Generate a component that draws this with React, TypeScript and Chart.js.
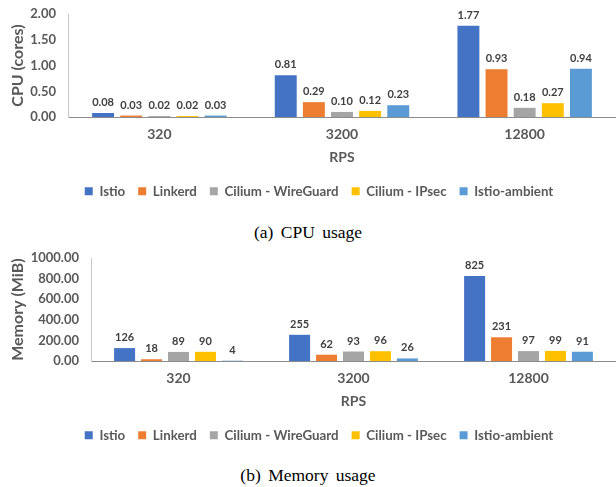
import React, { useEffect, useRef } from "react";
import { Chart, registerables } from "chart.js";

Chart.register(...registerables);

const categories = ["320", "3200", "12800"];
const seriesNames = ["Istio", "Linkerd", "Cilium - WireGuard", "Cilium - IPsec", "Istio-ambient"];
const seriesColors = ["#4472C4", "#ED7D31", "#A5A5A5", "#FFC000", "#5B9BD5"];

const cpuIstio = [0.08, 0.81, 1.77];
const cpuLinkerd = [0.03, 0.29, 0.93];
const cpuWireGuard = [0.02, 0.1, 0.18];
const cpuIPsec = [0.02, 0.12, 0.27];
const cpuAmbient = [0.03, 0.23, 0.94];

const memIstio = [126, 255, 825];
const memLinkerd = [18, 62, 231];
const memWireGuard = [89, 93, 97];
const memIPsec = [90, 96, 99];
const memAmbient = [4, 26, 91];

const FONT = "Lato, 'Open Sans', sans-serif";
const TEXT = "#595959";
const CANVAS_H = 208;
const PAD_LEFT = 22;

const valueLabels = {
  id: "valueLabels",
  afterDatasetsDraw(chart: any, _args: any, opts: any) {
    const ctx = chart.ctx;
    ctx.save();
    ctx.font = `bold 11px ${FONT}`;
    ctx.fillStyle = "#404040";
    ctx.textAlign = "center";
    ctx.textBaseline = "bottom";
    chart.data.datasets.forEach((ds: any, i: number) => {
      const meta = chart.getDatasetMeta(i);
      meta.data.forEach((el: any, j: number) => {
        const v = ds.data[j];
        const txt = opts.decimals > 0 ? v.toFixed(opts.decimals) : String(Math.round(v));
        ctx.fillText(txt, el.x, el.y - 5);
      });
    });
    ctx.restore();
  },
};

function makeConfig(series: number[][], yTitle: string, max: number, step: number, decimals: number, axisX: number): any {
  return {
    type: "bar",
    data: {
      labels: categories,
      datasets: series.map((d, i) => ({
        label: seriesNames[i],
        data: d,
        backgroundColor: seriesColors[i],
        categoryPercentage: 0.77,
        barPercentage: 0.78,
      })),
    },
    plugins: [valueLabels],
    options: {
      animation: false,
      responsive: false,
      maintainAspectRatio: false,
      layout: { padding: { top: 14, left: PAD_LEFT, right: 0, bottom: 0 } },
      plugins: {
        valueLabels: { decimals },
        tooltip: { enabled: false },
        legend: {
          position: "bottom",
          labels: {
            boxWidth: 8,
            boxHeight: 8,
            padding: 13,
            color: TEXT,
            font: { family: FONT, size: 13.3, weight: "bold" },
          },
        },
      },
      scales: {
        x: {
          grid: { display: false, drawTicks: false },
          border: { display: true, color: "#8c8c8c", width: 1 },
          ticks: { color: TEXT, padding: 9, font: { family: FONT, size: 14, weight: "bold" } },
          title: {
            display: true,
            text: "RPS",
            color: TEXT,
            padding: { top: -3, bottom: 6 },
            font: { family: FONT, size: 14, weight: "bold" },
          },
        },
        y: {
          min: 0,
          max,
          afterFit: (s: any) => {
            s.width = axisX - PAD_LEFT;
            s.paddingTop = 0;
            s.paddingBottom = 0;
          },
          grid: { display: false, drawTicks: false },
          border: { display: true, color: "#c8c8c8", width: 1 },
          ticks: {
            stepSize: step,
            color: TEXT,
            padding: 12,
            font: { family: FONT, size: 13, weight: "bold" },
            callback: (v: any) => Number(v).toFixed(2),
          },
          title: {
            display: true,
            text: yTitle,
            color: TEXT,
            padding: { top: -14, bottom: 4 },
            font: { family: FONT, size: 16, weight: "bold" },
          },
        },
      },
    },
  };
}

function BarChart(props: { series: number[][]; yTitle: string; max: number; step: number; decimals: number; axisX: number; top: number }) {
  const ref = useRef<HTMLCanvasElement>(null);
  useEffect(() => {
    if (!ref.current) return;
    const chart = new Chart(ref.current, makeConfig(props.series, props.yTitle, props.max, props.step, props.decimals, props.axisX));
    return () => chart.destroy();
  }, []);
  return (
    <canvas
      ref={ref}
      width={616}
      height={CANVAS_H}
      style={{ position: "absolute", left: 0, top: props.top, width: 616, height: CANVAS_H }}
    />
  );
}

const captionStyle: React.CSSProperties = {
  position: "absolute",
  left: 0,
  width: 616,
  textAlign: "center",
  fontFamily: "'Liberation Serif', 'Times New Roman', serif",
  fontSize: 17.5,
  wordSpacing: 3,
  color: "#000",
  lineHeight: "20px",
};

export default function App() {
  return (
    <div style={{ position: "fixed", left: 0, top: 0, width: 616, height: 487, background: "#fff", overflow: "hidden" }}>
      <BarChart
        series={[cpuIstio, cpuLinkerd, cpuWireGuard, cpuIPsec, cpuAmbient]}
        yTitle="CPU (cores)"
        max={2}
        step={0.5}
        decimals={2}
        axisX={68}
        top={0}
      />
      <div style={{ ...captionStyle, top: 222 }}>(a) CPU usage</div>
      <BarChart
        series={[memIstio, memLinkerd, memWireGuard, memIPsec, memAmbient]}
        yTitle="Memory (MiB)"
        max={1000}
        step={200}
        decimals={0}
        axisX={91}
        top={244}
      />
      <div style={{ ...captionStyle, top: 465 }}>(b) Memory usage</div>
    </div>
  );
}
